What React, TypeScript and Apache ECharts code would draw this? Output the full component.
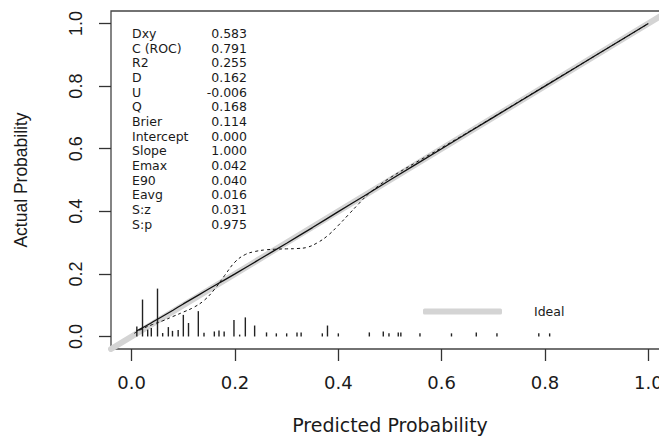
import React, { useEffect, useRef } from "react";
import * as echarts from "echarts";

const xTicks = [0, 0.2, 0.4, 0.6, 0.8, 1.0];
const yTicks = [0, 0.2, 0.4, 0.6, 0.8, 1.0];
const idealX = [-0.04, 1.04];

const solidX = [0.01, 0.03, 0.05, 0.08, 0.1, 0.13, 0.16, 0.2, 0.25, 0.3, 0.35, 0.4, 0.45, 0.5, 0.6, 0.7, 0.8, 0.9, 1.0];
const solidY = [0.018, 0.036, 0.055, 0.084, 0.104, 0.133, 0.162, 0.2, 0.249, 0.298, 0.348, 0.399, 0.449, 0.5, 0.6, 0.7, 0.8, 0.9, 1.0];

const dashX = [0.005, 0.02, 0.04, 0.06, 0.08, 0.1, 0.12, 0.14, 0.16, 0.18, 0.2, 0.22, 0.24, 0.26, 0.28, 0.3, 0.32, 0.34, 0.36, 0.38, 0.4, 0.42, 0.44, 0.46, 0.48, 0.5, 0.55, 0.6, 0.7, 0.8, 0.9, 1.0];
const dashY = [0.01, 0.024, 0.038, 0.05, 0.064, 0.078, 0.093, 0.115, 0.15, 0.195, 0.238, 0.262, 0.272, 0.277, 0.279, 0.28, 0.281, 0.285, 0.3, 0.323, 0.355, 0.39, 0.425, 0.458, 0.484, 0.507, 0.556, 0.603, 0.701, 0.801, 0.9, 1.0];

const spikeX = [0.01, 0.021, 0.031, 0.038, 0.05, 0.06, 0.071, 0.079, 0.09, 0.1, 0.11, 0.129, 0.14, 0.16, 0.169, 0.179, 0.198, 0.209, 0.22, 0.238, 0.261, 0.28, 0.3, 0.32, 0.328, 0.369, 0.379, 0.4, 0.46, 0.487, 0.498, 0.516, 0.521, 0.558, 0.619, 0.667, 0.707, 0.788, 0.809];
const spikeH = [0.032, 0.118, 0.022, 0.027, 0.153, 0.011, 0.03, 0.018, 0.021, 0.069, 0.043, 0.081, 0.012, 0.016, 0.019, 0.016, 0.053, 0.006, 0.061, 0.035, 0.013, 0.01, 0.01, 0.013, 0.013, 0.01, 0.035, 0.01, 0.013, 0.016, 0.01, 0.013, 0.013, 0.01, 0.01, 0.013, 0.01, 0.01, 0.01];

const statNames = ["Dxy", "C (ROC)", "R2", "D", "U", "Q", "Brier", "Intercept", "Slope", "Emax", "E90", "Eavg", "S:z", "S:p"];
const statValues = ["0.583", "0.791", "0.255", "0.162", "-0.006", "0.168", "0.114", "0.000", "1.000", "0.042", "0.040", "0.016", "0.031", "0.975"];

const H_FONT = "'DejaVu Sans', 'Liberation Sans', sans-serif";
const V_FONT = "'Liberation Sans', Arial, sans-serif";

export default function App() {
  const ref = useRef<HTMLDivElement>(null);
  useEffect(() => {
    document.body.style.margin = "0";
    if (!ref.current) return;
    const chart = echarts.init(ref.current, null, { renderer: "svg" });
    const statTexts: any[] = [];
    statNames.forEach((n, i) => {
      const y = 33.5 + i * 14.67;
      statTexts.push({
        type: "text",
        x: 132,
        y,
        style: { text: n, fill: "#1a1a1a", font: `12.5px ${H_FONT}`, textAlign: "left", textVerticalAlign: "middle" },
      });
      statTexts.push({
        type: "text",
        x: 247,
        y,
        style: { text: statValues[i], fill: "#1a1a1a", font: `12.5px ${H_FONT}`, textAlign: "right", textVerticalAlign: "middle" },
      });
    });
    chart.setOption({
      animation: false,
      backgroundColor: "#ffffff",
      grid: {
        show: true,
        left: 111,
        top: 11,
        width: 558,
        height: 338,
        containLabel: false,
        outerBoundsMode: "none",
        borderColor: "#444",
        borderWidth: 1.3,
        backgroundColor: "transparent",
      },
      legend: {
        show: true,
        left: 423,
        top: 305,
        padding: 0,
        itemWidth: 79,
        itemHeight: 6,
        icon: "roundRect",
        data: ["Ideal"],
        textStyle: { fontFamily: H_FONT, fontSize: 12.5, color: "#1a1a1a", padding: [3, 0, 0, 27] },
        selectedMode: false,
      },
      xAxis: {
        type: "value",
        min: -0.04,
        max: 1.04,
        name: "Predicted Probability",
        nameLocation: "middle",
        nameGap: 66,
        nameTextStyle: { fontFamily: H_FONT, fontSize: 19, color: "#1a1a1a" },
        axisLine: { show: false, onZero: false },
        splitLine: { show: false },
        axisTick: { show: true, length: 12, inside: false, customValues: xTicks, lineStyle: { color: "#333", width: 1.3 } },
        axisLabel: {
          show: true,
          customValues: xTicks,
          margin: 24,
          fontFamily: H_FONT,
          fontSize: 18,
          color: "#1a1a1a",
          formatter: (v: number) => v.toFixed(1),
        },
      },
      yAxis: {
        type: "value",
        min: -0.04,
        max: 1.04,
        name: "Actual Probability",
        nameLocation: "middle",
        nameRotate: 90,
        nameGap: 81,
        nameTextStyle: { fontFamily: V_FONT, fontSize: 17.5, color: "#1a1a1a" },
        axisLine: { show: false, onZero: false },
        splitLine: { show: false },
        axisTick: { show: true, length: 12, inside: false, customValues: yTicks, lineStyle: { color: "#333", width: 1.3 } },
        axisLabel: {
          show: true,
          customValues: yTicks,
          rotate: 90,
          margin: 26,
          fontFamily: V_FONT,
          fontSize: 18,
          color: "#1a1a1a",
          formatter: (v: number) => v.toFixed(1),
        },
      },
      graphic: [{ type: "group", children: statTexts }],
      series: [
        {
          name: "Ideal",
          type: "line",
          data: idealX.map((x) => [x, x]),
          showSymbol: false,
          clip: true,
          lineStyle: { color: "#d4d4d4", width: 6, cap: "round" },
          itemStyle: { color: "#d4d4d4" },
          z: 1,
        },
        {
          name: "spikes",
          type: "custom",
          data: spikeX.map((x, i) => [x, spikeH[i]]),
          encode: { x: 0, y: 1 },
          renderItem: (params: any, api: any) => {
            const x = api.value(0);
            const h = api.value(1);
            const p0 = api.coord([x, 0]);
            const p1 = api.coord([x, h]);
            return {
              type: "line",
              shape: { x1: p0[0], y1: p0[1], x2: p1[0], y2: p1[1] },
              style: { stroke: "#222", lineWidth: 1.4 },
            };
          },
          z: 2,
        },
        {
          name: "Bias-corrected",
          type: "line",
          data: solidX.map((x, i) => [x, solidY[i]]),
          showSymbol: false,
          smooth: 0.3,
          lineStyle: { color: "#111", width: 1.3 },
          z: 3,
        },
        {
          name: "Apparent",
          type: "line",
          data: dashX.map((x, i) => [x, dashY[i]]),
          showSymbol: false,
          smooth: 0.4,
          lineStyle: { color: "#111", width: 1, type: [3, 3] },
          z: 3,
        },
      ],
    });
    return () => chart.dispose();
  }, []);
  return <div ref={ref} style={{ position: "fixed", left: 0, top: 0, width: 659, height: 439 }} />;
}
